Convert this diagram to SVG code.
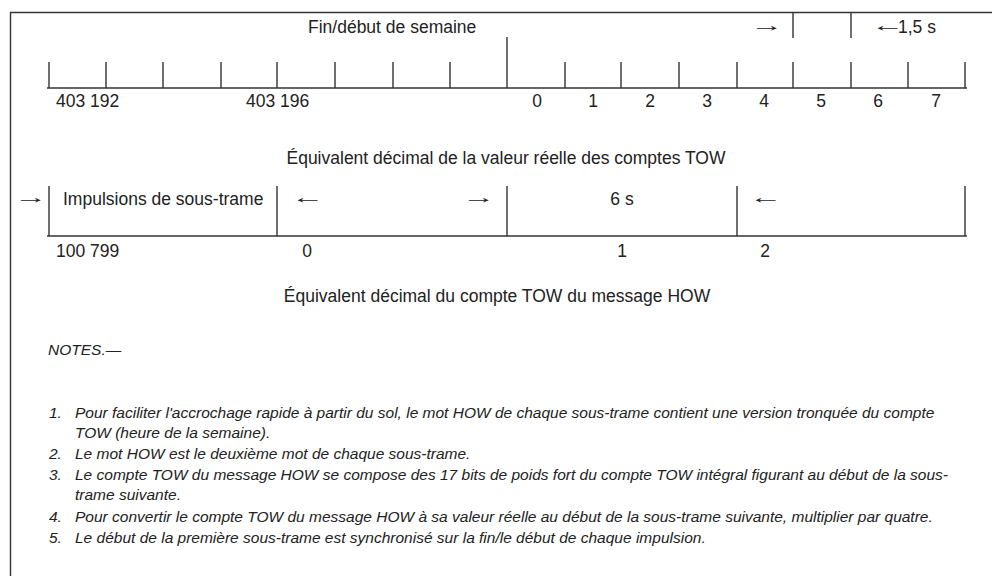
<svg xmlns="http://www.w3.org/2000/svg" width="992" height="576" viewBox="0 0 992 576">
<style>
.t{font-family:"Liberation Sans",Arial,sans-serif;font-size:17.5px;fill:#222}
.m{text-anchor:middle}
.a{font-family:"Liberation Sans",Arial,sans-serif;font-size:17.5px;fill:#222}
.n{font-family:"Liberation Sans",Arial,sans-serif;font-size:15.5px;font-style:italic;fill:#222}
.l{stroke:#333;stroke-width:1.4;fill:none}
</style>
<rect width="992" height="576" fill="#fff"/>
<g id="frame">
<path class="l" d="M10.5,576 V12.5 H992"/>
</g>
<g id="connectors">
<path class="l" d="M47,88 H967"/>
<path class="l" d="M49,62V88 M106,62V88 M163,62V88 M221,62V88 M277,62V88 M335,62V88 M393,62V88 M450,62V88 M565,62V88 M621,62V88 M679,62V88 M737,62V88 M793,62V88 M851,62V88 M908,62V88 M965,62V88"/>
<path class="l" d="M507,37V88"/>
<path class="l" d="M793,12V38 M851,12V38"/>
<path class="l" d="M47,236 H967"/>
<path class="l" d="M49,186V236 M277,186V236 M507,186V236 M737,186V236 M965,186V236"/>
</g>
<g id="top-labels">
<text class="t" x="308" y="33">Fin/début de semaine</text>
<text class="a" transform="translate(750,31) scale(1.9,1)">→</text>
<text class="a" transform="translate(871,31) scale(1.9,1)">←</text>
<text class="t" x="898" y="33">1,5 s</text>
</g>
<g id="tow-scale">
<text class="t" x="56" y="107">403 192</text>
<text class="t" x="246" y="107">403 196</text>
<text class="t m" x="537" y="107">0</text>
<text class="t m" x="593" y="107">1</text>
<text class="t m" x="650" y="107">2</text>
<text class="t m" x="707" y="107">3</text>
<text class="t m" x="764" y="107">4</text>
<text class="t m" x="821" y="107">5</text>
<text class="t m" x="878" y="107">6</text>
<text class="t m" x="936" y="107">7</text>
<text class="t m" x="506" y="164">Équivalent décimal de la valeur réelle des comptes TOW</text>
</g>
<g id="subframe">
<text class="a" transform="translate(14,203) scale(1.9,1)">→</text>
<text class="t" x="63" y="205">Impulsions de sous-trame</text>
<text class="a" transform="translate(291,203) scale(1.9,1)">←</text>
<text class="a" transform="translate(462,203) scale(1.9,1)">→</text>
<text class="t m" x="622" y="205">6 s</text>
<text class="a" transform="translate(749,203) scale(1.9,1)">←</text>
<text class="t" x="56" y="257">100 799</text>
<text class="t m" x="307" y="257">0</text>
<text class="t m" x="622" y="257">1</text>
<text class="t m" x="765" y="257">2</text>
<text class="t m" x="497" y="302">Équivalent décimal du compte TOW du message HOW</text>
</g>
<g id="notes">
<text class="n" x="48" y="355">NOTES.—</text>
<text class="n" x="49" y="418">1.</text>
<text class="n" x="75" y="418">Pour faciliter l'accrochage rapide à partir du sol, le mot HOW de chaque sous-trame contient une version tronquée du compte</text>
<text class="n" x="75" y="438">TOW (heure de la semaine).</text>
<text class="n" x="49" y="459">2.</text>
<text class="n" x="75" y="459">Le mot HOW est le deuxième mot de chaque sous-trame.</text>
<text class="n" x="49" y="480">3.</text>
<text class="n" x="75" y="480">Le compte TOW du message HOW se compose des 17 bits de poids fort du compte TOW intégral figurant au début de la sous-</text>
<text class="n" x="75" y="500">trame suivante.</text>
<text class="n" x="49" y="522">4.</text>
<text class="n" x="75" y="522">Pour convertir le compte TOW du message HOW à sa valeur réelle au début de la sous-trame suivante, multiplier par quatre.</text>
<text class="n" x="49" y="543">5.</text>
<text class="n" x="75" y="543">Le début de la première sous-trame est synchronisé sur la fin/le début de chaque impulsion.</text>
</g>
</svg>
